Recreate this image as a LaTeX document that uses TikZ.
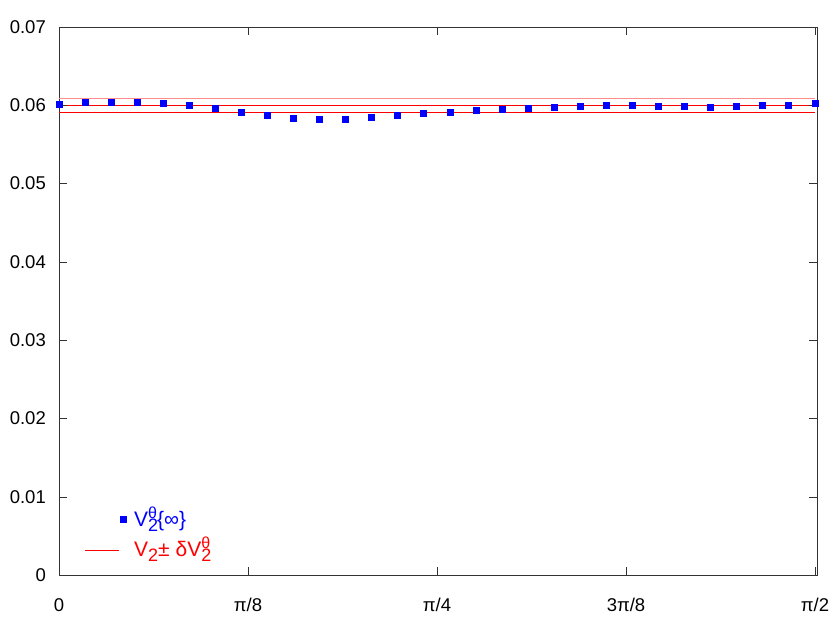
\documentclass[tikz,border=0pt]{standalone}
\usepackage{fontspec}
\setmainfont{Liberation Sans}
\newcommand{\subsup}[2]{\rlap{\raisebox{-5pt}{\fontsize{18}{20}\selectfont #1}}\raisebox{8pt}{\fontsize{16}{18}\selectfont #2}}
\newcommand{\subonly}[1]{\raisebox{-5pt}{\fontsize{18}{20}\selectfont #1}}
\begin{document}
\begin{tikzpicture}[x=1pt,y=-1pt,
  lbl/.style={font=\fontsize{18.5}{22}\selectfont, inner sep=0pt},
  leg/.style={font=\fontsize{21}{24}\selectfont, inner sep=0pt},
  pt/.style={fill=blue, minimum size=7pt, inner sep=0pt},
  band/.style={red, line width=0.8pt}]
\useasboundingbox (0,0) rectangle (830,621);
\node[draw=black!80, line width=0.8pt, minimum width=758pt, minimum height=548pt, anchor=north west, inner sep=0pt] (frame) at (59,27) {};
% bands
\draw[red!45, line width=0.8pt] (59,98) coordinate (a1) -- (815,98) coordinate (a2);
\draw[band] (59,105.3) coordinate (b1) -- (815,105.3) coordinate (b2);
\draw[band] (59,112.3) coordinate (c1) -- (815,112.3) coordinate (c2);
% y ticks
\foreach \v [count=\i from 0] in {0,0.01,0.02,0.03,0.04,0.05,0.06,0.07} {
  \pgfmathsetmacro{\yy}{575-78.286*\i}
  \draw[black!80] (59,\yy) -- (67,\yy) (817,\yy) -- (809,\yy);
  \node[lbl, anchor=east] (y\i) at (46,\yy) {\v};
}
% x ticks
\foreach \l [count=\i from 0] in {0,π/8,π/4,3π/8,π/2} {
  \pgfmathsetmacro{\xx}{59+189*\i}
  \draw[black!80] (\xx,575) -- (\xx,567) (\xx,27) -- (\xx,35);
  \node[lbl, anchor=base] (x\i) at (\xx,611) {\l};
}
% points
\foreach \yy [count=\i from 0] in {104,102.7,102,102,103.7,105.3,108.3,112,115.7,118.3,119.3,119,117,115.7,113.7,112,110.7,109.3,108.3,107.3,106.3,105.7,105.7,106.3,106.7,107,106.7,105.7,105,103.7} {
  \pgfmathsetmacro{\xx}{59+26.07*\i}
  \node[pt] (p\i) at (\xx,\yy) {};
}
% legend
\node[pt] (lp) at (123,519) {};
\node[leg, anchor=west, text=blue] (lt1) at (134,519) {V\subsup{2}{θ}\{∞\}};
\coordinate (ll1) at (85,550);
\coordinate (ll2) at (119,550);
\draw[red, line width=0.6pt] (ll1) -- (ll2);
\node[leg, anchor=west, text=red] (lt2) at (134,549) {V\subonly{2}± δV\subsup{2}{θ}};
\end{tikzpicture}
\end{document}
